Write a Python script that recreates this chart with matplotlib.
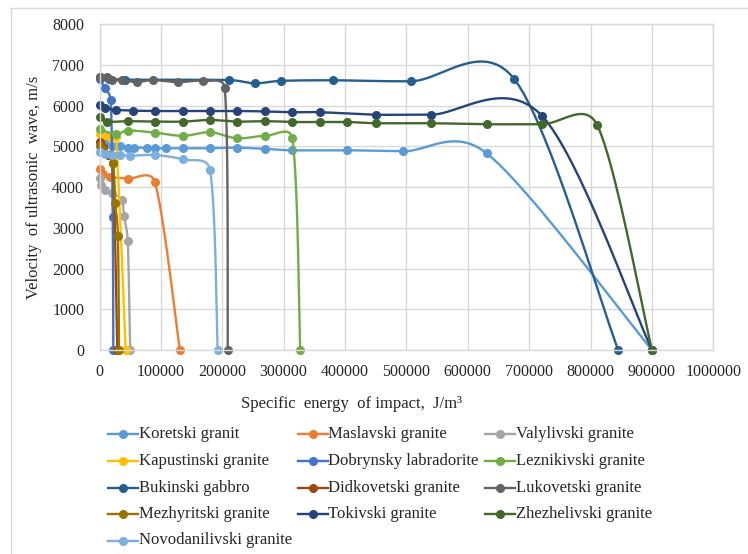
import numpy as np
import matplotlib.pyplot as plt
from matplotlib.lines import Line2D

plt.rcParams['font.family'] = ['Liberation Serif', 'DejaVu Serif']

names = ['Koretski granit', 'Maslavski granite', 'Valylivski granite',
         'Kapustinski granite', 'Dobrynsky labradorite', 'Leznikivski granite',
         'Bukinski gabbro', 'Didkovetski granite', 'Lukovetski granite',
         'Mezhyritski granite', 'Tokivski granite', 'Zhezhelivski granite',
         'Novodanilivski granite']
colors = ['#5B9BD5', '#ED7D31', '#A5A5A5', '#FFC000', '#4472C4', '#70AD47',
          '#255E91', '#9E480E', '#636363', '#997300', '#264478', '#43682B',
          '#7CAFDD']

# specific energy of impact, J/m3 / ultrasonic velocity, m/s
koretski_x = [0, 9000, 20000, 33000, 47000, 57000, 77000, 90000, 108000, 136000,
              180000, 224000, 270000, 314000, 404000, 495000, 631000, 900000]
koretski_y = [5120, 5060, 5010, 5010, 4970, 4970, 4970, 4955, 4955, 4955,
              4955, 4970, 4940, 4905, 4905, 4880, 4830, 0]
maslavski_x = [0, 6000, 17000, 46000, 90000, 131000]
maslavski_y = [4450, 4330, 4250, 4210, 4130, 0]
valylivski_x = [0, 3000, 9000, 20000, 36000, 40000, 46000, 50000]
valylivski_y = [4220, 4050, 3930, 3860, 3680, 3290, 2680, 0]
kapustinski_x = [0, 7000, 17600, 26900, 42700]
kapustinski_y = [5310, 5280, 5240, 5225, 0]
dobrynsky_x = [0, 9000, 18200, 21500, 22500]
dobrynsky_y = [6650, 6430, 6140, 3270, 0]
leznikivski_x = [0, 27000, 46000, 90000, 136000, 180000, 224000, 270000, 314000, 327000]
leznikivski_y = [5420, 5300, 5390, 5340, 5260, 5350, 5200, 5260, 5200, 0]
bukinski_x = [0, 15000, 41500, 211000, 253000, 296000, 380000, 507000, 676000, 845000]
bukinski_y = [6700, 6660, 6640, 6630, 6550, 6610, 6625, 6600, 6650, 0]
didkovetski_x = [0, 5000, 14000, 22000, 29000]
didkovetski_y = [5100, 4980, 4800, 4600, 0]
lukovetski_x = [0, 13000, 20000, 37000, 61000, 87000, 128000, 168000, 204000, 209000]
lukovetski_y = [6710, 6710, 6630, 6630, 6580, 6630, 6580, 6610, 6430, 0]
mezhyritski_x = [0, 6000, 21500, 25700, 30000, 31800]
mezhyritski_y = [5010, 4910, 4590, 3600, 2810, 0]
tokivski_x = [0, 9000, 27000, 55000, 90000, 136000, 180000, 224000, 270000,
              314000, 360000, 450000, 540000, 721000, 900000]
tokivski_y = [6020, 5940, 5900, 5880, 5870, 5870, 5870, 5870, 5860,
              5840, 5840, 5780, 5780, 5750, 0]
zhezhelivski_x = [0, 12000, 46000, 90000, 136000, 180000, 224000, 270000, 314000,
                  360000, 404000, 450000, 540000, 631000, 721000, 811000, 900000]
zhezhelivski_y = [5730, 5610, 5620, 5610, 5610, 5650, 5610, 5620, 5600,
                  5600, 5600, 5570, 5570, 5545, 5545, 5520, 0]
novodanilivski_x = [0, 9000, 20000, 33000, 50000, 90000, 136000, 180000, 192500]
novodanilivski_y = [4870, 4810, 4790, 4790, 4770, 4790, 4680, 4420, 0]

series = [(koretski_x, koretski_y), (maslavski_x, maslavski_y),
          (valylivski_x, valylivski_y), (kapustinski_x, kapustinski_y),
          (dobrynsky_x, dobrynsky_y), (leznikivski_x, leznikivski_y),
          (bukinski_x, bukinski_y), (didkovetski_x, didkovetski_y),
          (lukovetski_x, lukovetski_y), (mezhyritski_x, mezhyritski_y),
          (tokivski_x, tokivski_y), (zhezhelivski_x, zhezhelivski_y),
          (novodanilivski_x, novodanilivski_y)]

XMAX, YMAX = 1000000, 8000


def arm(a, b, seg):
    # tangent arm (b - a) / 6, clamped to half of the segment length
    d = np.hypot(*(b - a))
    if d == 0:
        return np.zeros(2)
    f = 1 / 6 if d / 6 < seg / 2 else seg / (2 * d)
    return (b - a) * f


def smooth(xs, ys, kx, ky, n=24):
    # bezier smoothing of the polyline, done in screen-like units
    pts = np.column_stack([np.asarray(xs, float) * kx, np.asarray(ys, float) * ky])
    out = [pts[0]]
    t = np.linspace(0, 1, n)[1:, None]
    for i in range(len(pts) - 1):
        p0 = pts[max(i - 1, 0)]
        p1, p2 = pts[i], pts[i + 1]
        p3 = pts[min(i + 2, len(pts) - 1)]
        seg = np.hypot(*(p2 - p1))
        c1 = p1 + arm(p0, p2, seg)
        c2 = p2 - arm(p1, p3, seg)
        curve = (1 - t) ** 3 * p1 + 3 * (1 - t) ** 2 * t * c1 \
            + 3 * (1 - t) * t ** 2 * c2 + t ** 3 * p2
        out.extend(curve)
    out = np.array(out)
    return out[:, 0] / kx, out[:, 1] / ky


W, H = 748, 554
fig = plt.figure(figsize=(W / 100, H / 100), dpi=100)
ax = fig.add_axes([99.5 / W, 1 - 350 / H, (713.3 - 99.5) / W, (350 - 24.3) / H])

kx = (713.3 - 99.5) / XMAX
ky = (350 - 24.3) / YMAX
for (xs, ys), c in zip(series, colors):
    sx, sy = smooth(xs, ys, kx, ky)
    ax.plot(sx, sy, color=c, lw=1.7, solid_capstyle='round', clip_on=False)
    ax.plot(xs, ys, 'o', color=c, ms=5.5, clip_on=False)

ax.set_xlim(0, XMAX)
ax.set_ylim(0, YMAX)
ax.set_xticks(np.arange(0, XMAX + 1, 100000))
ax.set_yticks(np.arange(0, YMAX + 1, 1000))
ax.xaxis.set_major_formatter(plt.FuncFormatter(lambda v, p: f'{int(v)}'))
ax.yaxis.set_major_formatter(plt.FuncFormatter(lambda v, p: f'{int(v)}'))
ax.tick_params(length=0, labelsize=11.5, colors='#262626')
ax.tick_params(axis='x', pad=10)
ax.tick_params(axis='y', pad=11)
ax.grid(True, color='#D9D9D9', lw=1)
ax.set_axisbelow(True)
for s in ax.spines.values():
    s.set_color('#D9D9D9')
    s.set_linewidth(1)

ax.set_ylabel('Velocity  of ultrasonic  wave, m/s', fontsize=12, color='#262626',
              labelpad=7)
fig.text(352 / W, 1 - 404 / H, 'Specific  energy  of impact,  J/m³', fontsize=12,
         color='#262626', ha='center', va='center')

# legend, laid out row by row in three columns
col_x = [108, 297.5, 485]
row_y = [434, 461, 487.5, 514, 540.5]
for i, (name, c) in enumerate(zip(names, colors)):
    r, k = divmod(i, 3)
    x0, y0 = col_x[k], row_y[r]
    fig.add_artist(Line2D([x0 / W, (x0 + 30) / W], [1 - y0 / H] * 2, color=c, lw=1.7))
    fig.add_artist(Line2D([(x0 + 15) / W], [1 - y0 / H], marker='o', color=c, ms=5.5))
    fig.text((x0 + 31) / W, 1 - y0 / H, name, fontsize=12, color='#262626',
             ha='left', va='center')

# chart frame
fig.add_artist(Line2D([11 / W, 11 / W], [0, 1 - 8 / H], color='#D9D9D9', lw=1))
fig.add_artist(Line2D([11 / W, 1], [1 - 8 / H, 1 - 8 / H], color='#D9D9D9', lw=1))

fig.savefig('out.png', dpi=100)
